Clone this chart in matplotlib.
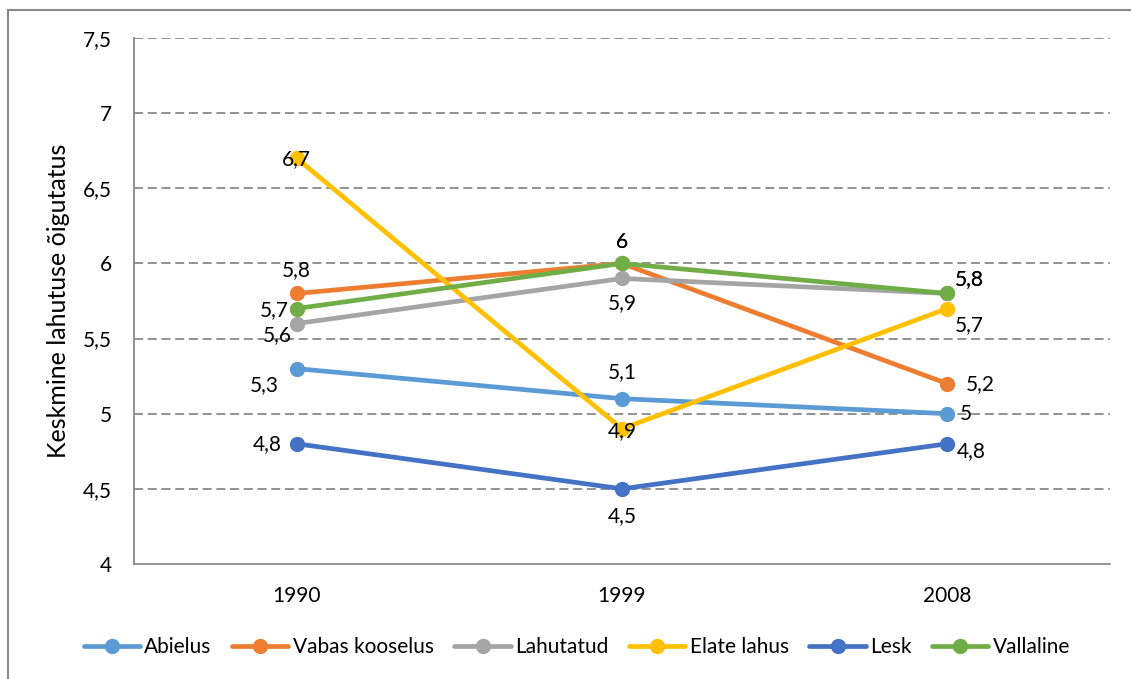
import matplotlib.pyplot as plt
import matplotlib.patches as patches
from matplotlib.ticker import FuncFormatter

plt.rcParams["font.family"] = ["Lato", "DejaVu Sans"]

years = ["1990", "1999", "2008"]

abielus = [5.3, 5.1, 5.0]
vabas_kooselus = [5.8, 6.0, 5.2]
lahutatud = [5.6, 5.9, 5.8]
elate_lahus = [6.7, 4.9, 5.7]
lesk = [4.8, 4.5, 4.8]
vallaline = [5.7, 6.0, 5.8]

series_names = ["Abielus", "Vabas kooselus", "Lahutatud",
                "Elate lahus", "Lesk", "Vallaline"]
series_values = [abielus, vabas_kooselus, lahutatud,
                 elate_lahus, lesk, vallaline]
colors = ["#5B9BD5", "#ED7D31", "#A5A5A5", "#FFC000", "#4472C4", "#70AD47"]

# label placement per series/point: (dx px, dy px, ha)
label_pos = {
    "Abielus": [(-32, -16, "center"), (0, 27, "center"), (12, 0, "left")],
    "Vabas kooselus": [(0, 23, "center"), (0, 21, "center"), (18, 0, "left")],
    "Lahutatud": [(-19, -12, "center"), (0, -25, "center"), (7, 14, "left")],
    "Elate lahus": [(0, -1, "center"), (0, -2, "center"), (7, -17, "left")],
    "Lesk": [(-15, 0, "right"), (0, -27, "center"), (9, -7, "left")],
    "Vallaline": [(-8, -2, "right"), (0, 21, "center"), (7, 14, "left")],
}


def comma(v, pos=None):
    s = f"{v:g}"
    return s.replace(".", ",")


fig = plt.figure(figsize=(11.31, 6.79), dpi=100)
ax = fig.add_axes([0.1185, 0.1694, 0.8629, 0.7746])

x = range(len(years))
for name, vals, col in zip(series_names, series_values, colors):
    ax.plot(x, vals, color=col, linewidth=3.4, marker="o",
            markersize=10, label=name, solid_capstyle="round", zorder=3)

for name, vals in zip(series_names, series_values):
    for i, v in enumerate(vals):
        dx, dy, ha = label_pos[name][i]
        ax.annotate(comma(v), (i, v), xytext=(dx, dy),
                    textcoords="offset pixels", ha=ha, va="center",
                    fontsize=15, color="#000000", zorder=4)

ax.set_xlim(-0.5, 2.5)
ax.set_ylim(4, 7.5)
ax.set_xticks(list(x))
ax.set_xticklabels(years)
ax.set_yticks([4, 4.5, 5, 5.5, 6, 6.5, 7, 7.5])
ax.yaxis.set_major_formatter(FuncFormatter(comma))
ax.tick_params(axis="both", length=0, labelsize=15, colors="#000000")
ax.tick_params(axis="y", pad=16)
ax.tick_params(axis="x", pad=16)

for yv in [4.5, 5, 5.5, 6, 6.5, 7, 7.5]:
    ax.axhline(yv, color="#898989", linewidth=1.3,
               linestyle=(0, (5, 2.6)), zorder=1)

for side in ["top", "right"]:
    ax.spines[side].set_visible(False)
for side in ["left", "bottom"]:
    ax.spines[side].set_color("#898989")
    ax.spines[side].set_linewidth(1.3)

ax.set_ylabel("Keskmine lahutuse õigutatus", fontsize=18, labelpad=9)

fig.legend(loc="center", bbox_to_anchor=(0.510, 0.047), ncol=6,
           frameon=False, fontsize=15, handlelength=2.7,
           columnspacing=1.0, handletextpad=0.2)

# outer chart border
border = patches.Rectangle((7.5 / 1131, -0.1), 1.2, 1.1 - 10.5 / 679,
                           transform=fig.transFigure, fill=False,
                           edgecolor="#898989", linewidth=1.5,
                           clip_on=False)
fig.patches.append(border)

fig.savefig("out.png", dpi=100)
